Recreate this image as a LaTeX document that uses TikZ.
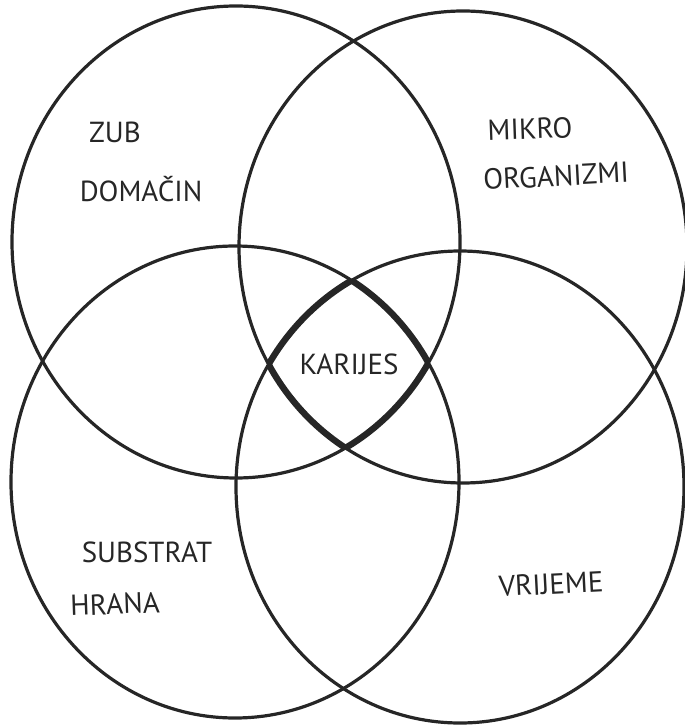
\documentclass[tikz,border=0pt]{standalone}
\usepackage{fontspec}
\setmainfont{PT Sans}
\pgfkeys{tikz/venn/.style={line width=1.6pt,draw=black!85},
  tikz/lens/.style={line width=3.2pt,draw=black!85},
  tikz/vennsize/.style={x radius=112pt,y radius=118pt},
  tikz/vennlabel/.style={font=\fontsize{14.5}{14.5}\selectfont,inner sep=1pt,text=black!85}}

\begin{document}
\begin{tikzpicture}[x=0.5pt,y=-0.5pt]
\useasboundingbox (0,0) rectangle (684,726);

% centres of the four sets
\coordinate (tl) at (236,242);
\coordinate (tr) at (463,247);
\coordinate (bl) at (235,482);
\coordinate (br) at (460,487);

\foreach \c in {tl,tr,bl,br}
  \draw[venn] (\c) ellipse [vennsize];

% common part, bold
\foreach \a/\b/\c/\d in {tl/tr/bl/br, tr/bl/br/tl, bl/br/tl/tr, br/tl/tr/bl} {
  \begin{scope}
    \clip (\b) ellipse [vennsize];
    \clip (\c) ellipse [vennsize];
    \clip (\d) ellipse [vennsize];
    \draw[lens] (\a) ellipse [vennsize];
  \end{scope}
}

% labels
\node[vennlabel] (zub) at (115,132) {ZUB};
\node[vennlabel] (domacin) at (141,189) {DOMAČIN};
\node[vennlabel,rotate=2] (mikro) at (530,129) {MIKRO};
\node[vennlabel,rotate=3] (organizmi) at (556,176) {ORGANIZMI};
\node[vennlabel] (karijes) at (349,364) {KARIJES};
\node[vennlabel] (substrat) at (147,552) {SUBSTRAT};
\node[vennlabel,rotate=2] (hrana) at (115,604) {HRANA};
\node[vennlabel,rotate=3] (vrijeme) at (551,584) {VRIJEME};

\end{tikzpicture}
\end{document}
